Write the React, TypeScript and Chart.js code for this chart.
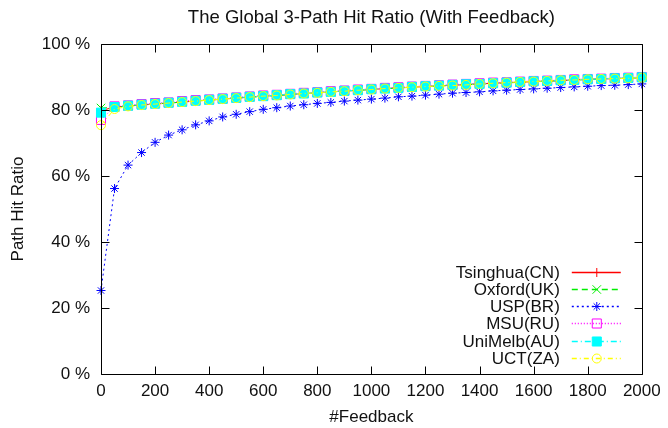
import React, { useEffect, useRef } from 'react';
import { Chart, registerables } from 'chart.js';
import { drawPoint } from 'chart.js/helpers';

Chart.register(...registerables);

const TITLE = 'The Global 3-Path Hit Ratio (With Feedback)';
const X_TITLE = '#Feedback';
const Y_TITLE = 'Path Hit Ratio';

const FEEDBACK = [
  0, 50, 100, 150, 200, 250, 300, 350, 400, 450, 500, 550, 600, 650, 700, 750, 800, 850, 900, 950,
  1000, 1050, 1100, 1150, 1200, 1250, 1300, 1350, 1400, 1450, 1500, 1550, 1600, 1650, 1700, 1750,
  1800, 1850, 1900, 1950, 2000,
];

const TSINGHUA = [
  79.8, 80.9, 81.2, 81.5, 81.8, 82.1, 82.4, 82.7, 83.0, 83.3, 83.6, 83.9, 84.2, 84.4, 84.7, 85.0,
  85.2, 85.5, 85.7, 86.0, 86.2, 86.5, 86.7, 86.9, 87.1, 87.3, 87.5, 87.7, 87.9, 88.1, 88.3, 88.4,
  88.6, 88.8, 88.9, 89.1, 89.3, 89.4, 89.5, 89.7, 89.8,
];
const OXFORD = [
  80.6, 80.8, 81.2, 81.6, 81.9, 82.1, 82.4, 82.8, 83.0, 83.3, 83.6, 83.9, 84.1, 84.4, 84.7, 84.9,
  85.2, 85.4, 85.7, 86.0, 86.2, 86.4, 86.7, 86.9, 87.1, 87.3, 87.5, 87.7, 87.9, 88.0, 88.2, 88.4,
  88.6, 88.7, 88.9, 89.1, 89.2, 89.4, 89.5, 89.6, 89.8,
];
const USP = [
  25.3, 56.2, 63.3, 67.1, 70.2, 72.4, 74.0, 75.5, 76.7, 77.9, 78.7, 79.5, 80.2, 80.7, 81.2, 81.6,
  82.0, 82.3, 82.7, 83.0, 83.3, 83.6, 84.0, 84.2, 84.5, 84.8, 85.1, 85.3, 85.5, 85.8, 86.0, 86.2,
  86.4, 86.6, 86.8, 87.0, 87.2, 87.4, 87.5, 87.7, 87.9,
];
const MSU = [
  77.0, 81.1, 81.4, 81.8, 82.1, 82.3, 82.7, 83.0, 83.2, 83.5, 83.8, 84.1, 84.4, 84.6, 84.9, 85.2,
  85.4, 85.7, 85.9, 86.2, 86.4, 86.7, 86.9, 87.1, 87.3, 87.5, 87.7, 87.9, 88.1, 88.3, 88.4, 88.6,
  88.8, 88.9, 89.1, 89.3, 89.4, 89.5, 89.7, 89.8, 90.0,
];
const UNIMELB = [
  79.2, 80.9, 81.3, 81.6, 81.9, 82.2, 82.5, 82.8, 83.1, 83.4, 83.7, 84.0, 84.2, 84.5, 84.8, 85.0,
  85.3, 85.5, 85.8, 86.0, 86.3, 86.5, 86.7, 87.0, 87.2, 87.4, 87.6, 87.8, 87.9, 88.1, 88.3, 88.5,
  88.7, 88.8, 89.0, 89.1, 89.3, 89.4, 89.6, 89.7, 89.9,
];
const UCT = [
  75.4, 80.3, 81.1, 81.5, 81.8, 82.1, 82.4, 82.7, 83.0, 83.3, 83.6, 83.9, 84.2, 84.4, 84.7, 85.0,
  85.2, 85.5, 85.7, 86.0, 86.2, 86.5, 86.7, 86.9, 87.1, 87.3, 87.4, 87.6, 87.9, 88.1, 88.3, 88.5,
  88.6, 88.8, 89.0, 89.1, 89.3, 89.4, 89.5, 89.6, 89.8,
];

const LABELS = ['Tsinghua(CN)', 'Oxford(UK)', 'USP(BR)', 'MSU(RU)', 'UniMelb(AU)', 'UCT(ZA)'];
const COLORS = ['#ff0000', '#00ee00', '#0000ff', '#ff00ff', '#00ffff', '#ffff00'];

const FONT = "'Liberation Sans', Arial, Helvetica, sans-serif";
const TEXT = '#111';
const FS = 17;

type Style = {
  dash: number[];
  pointStyle: string;
  radius: number;
  filled: boolean;
};

const STYLES: Style[] = [
  { dash: [], pointStyle: 'cross', radius: 4.5, filled: false },
  { dash: [6, 4], pointStyle: 'crossRot', radius: 6, filled: false },
  { dash: [2, 3], pointStyle: 'star', radius: 4.5, filled: false },
  { dash: [1, 2], pointStyle: 'rect', radius: 6.4, filled: false },
  { dash: [6, 3, 1, 3], pointStyle: 'rect', radius: 6.4, filled: true },
  { dash: [5, 3, 1, 3], pointStyle: 'circle', radius: 4.5, filled: false },
];

const SERIES = [TSINGHUA, OXFORD, USP, MSU, UNIMELB, UCT];

const frameAndLegend = {
  id: 'frameAndLegend',
  afterDraw(chart: any) {
    const { ctx, chartArea } = chart;
    const { left, right, top, bottom } = chartArea;
    const xs = chart.scales.x;
    const ys = chart.scales.y;
    const TL = 8;
    ctx.save();
    ctx.strokeStyle = '#000';
    ctx.lineWidth = 1;
    ctx.setLineDash([]);
    const L = Math.round(left) + 0.5;
    const R = Math.round(right) + 0.5;
    const T = Math.round(top) + 0.5;
    const B = Math.round(bottom) + 0.5;
    ctx.beginPath();
    ctx.rect(L, T, R - L, B - T);
    for (const t of xs.ticks) {
      const px = Math.round(xs.getPixelForValue(t.value)) + 0.5;
      ctx.moveTo(px, B);
      ctx.lineTo(px, B - TL);
      ctx.moveTo(px, T);
      ctx.lineTo(px, T + TL);
    }
    for (const t of ys.ticks) {
      const py = Math.round(ys.getPixelForValue(t.value)) + 0.5;
      ctx.moveTo(L, py);
      ctx.lineTo(L + TL, py);
      ctx.moveTo(R, py);
      ctx.lineTo(R - TL, py);
    }
    ctx.stroke();

    // legend (gnuplot style, bottom right inside the plot)
    ctx.font = `${FS}px ${FONT}`;
    ctx.textAlign = 'right';
    ctx.textBaseline = 'middle';
    LABELS.forEach((label, i) => {
      const s = STYLES[i];
      const color = COLORS[i];
      const y = Math.round(bottom - 102.5 + i * 17.3);
      ctx.fillStyle = TEXT;
      ctx.fillText(label, right - 82, y + 1);
      ctx.strokeStyle = color;
      ctx.lineWidth = 1.5;
      ctx.setLineDash(s.dash);
      ctx.beginPath();
      ctx.moveTo(right - 70, y + 0.5);
      ctx.lineTo(right - 21, y + 0.5);
      ctx.stroke();
      ctx.setLineDash([]);
      ctx.lineWidth = 1;
      ctx.fillStyle = s.filled ? color : 'rgba(0,0,0,0)';
      ctx.strokeStyle = color;
      drawPoint(ctx, { pointStyle: s.pointStyle, radius: s.radius, rotation: 0, borderWidth: 1 } as any, right - 45, y + 0.5);
    });
    ctx.restore();
  },
};

export default function App() {
  const ref = useRef<HTMLCanvasElement>(null);
  useEffect(() => {
    const datasets = SERIES.map((vals, i) => {
      const s = STYLES[i];
      const color = COLORS[i];
      return {
        label: LABELS[i],
        data: vals.map((v, j) => ({ x: FEEDBACK[j], y: v })),
        borderColor: color,
        backgroundColor: color,
        borderWidth: 1,
        borderDash: s.dash,
        pointStyle: s.pointStyle,
        pointRadius: s.radius,
        pointBorderWidth: 1,
        pointBorderColor: color,
        pointBackgroundColor: s.filled ? color : 'rgba(0,0,0,0)',
        tension: 0,
        clip: false,
        order: SERIES.length - i,
      };
    });
    const chart = new Chart(ref.current as HTMLCanvasElement, {
      type: 'line',
      data: { datasets } as any,
      options: {
        responsive: false,
        animation: false,
        events: [],
        layout: { padding: { left: 0, right: 23, top: 0, bottom: 0 } },
        font: { family: FONT, size: FS } as any,
        plugins: {
          legend: { display: false },
          tooltip: { enabled: false },
          title: {
            display: true,
            text: TITLE,
            fullSize: false,
            color: TEXT,
            font: { family: FONT, size: 18.5, weight: 'normal' },
            padding: { top: 6.4, bottom: 15.4 },
          },
        },
        scales: {
          x: {
            type: 'linear',
            min: 0,
            max: 2000,
            afterFit: (s: any) => {
              s.height = 54;
            },
            grid: { display: false, drawTicks: false },
            border: { display: false },
            ticks: {
              stepSize: 200,
              autoSkip: false,
              maxRotation: 0,
              padding: 7.3,
              color: TEXT,
              font: { family: FONT, size: FS },
              callback: (v: any) => String(v),
            },
            title: {
              display: true,
              text: X_TITLE,
              color: TEXT,
              font: { family: FONT, size: FS },
              padding: { top: 0, bottom: 0 },
            },
          },
          y: {
            type: 'linear',
            min: 0,
            max: 100,
            afterFit: (s: any) => {
              s.width = 101;
            },
            grid: { display: false, drawTicks: false },
            border: { display: false },
            ticks: {
              stepSize: 20,
              padding: 11,
              color: TEXT,
              font: { family: FONT, size: FS },
              callback: (v: any) => `${v} %`,
            },
            title: {
              display: true,
              text: Y_TITLE,
              color: TEXT,
              font: { family: FONT, size: FS },
              padding: { top: 8.3, bottom: 0 },
            },
          },
        },
      } as any,
      plugins: [frameAndLegend],
    });
    return () => chart.destroy();
  }, []);
  return (
    <div style={{ position: 'absolute', left: 0, top: 0, width: 668, height: 428, background: '#fff' }}>
      <canvas ref={ref} width={668} height={428} style={{ display: 'block' }} />
    </div>
  );
}
